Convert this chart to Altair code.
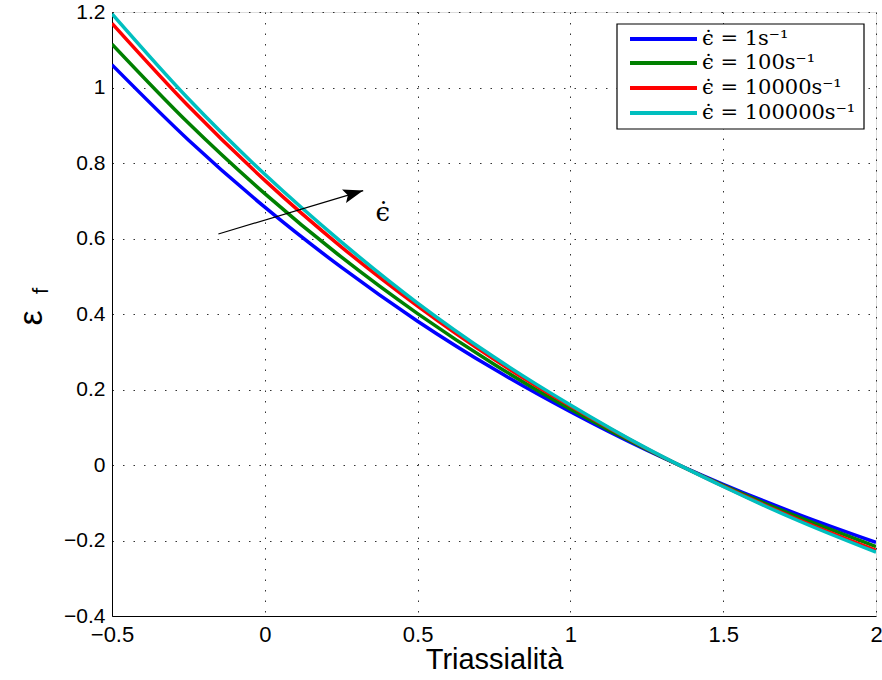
import altair as alt
import pandas as pd

x_vals = [-0.5, -0.25, 0.0, 0.25, 0.5, 0.75, 1.0, 1.25, 1.5, 1.75, 2.0]
series_names = ["1", "100", "10000", "100000"]
blue = [1.060, 0.861, 0.683, 0.524, 0.381, 0.254, 0.141, 0.039, -0.051, -0.132, -0.205]
green = [1.115, 0.906, 0.719, 0.551, 0.401, 0.267, 0.148, 0.041, -0.054, -0.139, -0.216]
red = [1.170, 0.951, 0.754, 0.578, 0.421, 0.280, 0.156, 0.043, -0.056, -0.146, -0.226]
cyan = [1.195, 0.970, 0.770, 0.591, 0.429, 0.286, 0.159, 0.044, -0.057, -0.149, -0.231]
colors = ["#0000ff", "#008000", "#ff0000", "#00bfbf"]
x_ticks = [-0.5, 0, 0.5, 1, 1.5, 2]
y_ticks = [-0.4, -0.2, 0, 0.2, 0.4, 0.6, 0.8, 1, 1.2]

rows = []
for name, ys in zip(series_names, [blue, green, red, cyan]):
    for xv, yv in zip(x_vals, ys):
        rows.append({"x": xv, "y": yv, "s": name})
df = pd.DataFrame(rows)

sans = "Liberation Sans"
serif = "DejaVu Serif"

xscale = alt.Scale(domain=[-0.5, 2], nice=False, zero=False)
yscale = alt.Scale(domain=[-0.4, 1.2], nice=False, zero=False)

lines = alt.Chart(df).mark_line(strokeWidth=3.5, interpolate="monotone", clip=True).encode(
    x=alt.X("x:Q", scale=xscale, axis=alt.Axis(
        values=x_ticks, title="Triassialità", titleFont=sans, titleFontSize=29,
        titleFontWeight="normal", titleColor="black", titlePadding=0,
        labelFont=sans, labelFontSize=22, labelColor="black", labelPadding=8,
        labelExpr="replace(toString(datum.value), '-', '\u2212')",
        ticks=False, domainColor="black", grid=True, gridColor="black",
        gridDash=[1.5, 9], gridOpacity=0.8, labelFlush=False)),
    y=alt.Y("y:Q", scale=yscale, axis=alt.Axis(
        values=y_ticks, title=None,
        labelFont=sans, labelFontSize=21, labelColor="black", labelPadding=7,
        labelExpr="replace(toString(datum.value), '-', '\u2212')",
        ticks=False, domainColor="black", grid=True, gridColor="black",
        gridDash=[1.5, 9], gridOpacity=0.8, labelFlush=False)),
    color=alt.Color("s:N", scale=alt.Scale(domain=series_names, range=colors), legend=None),
    detail="s:N",
)

# arrow annotation
arrow_start = (-0.152, 0.612)
arrow_end = (0.322, 0.727)
arrow_df = pd.DataFrame([{"x": arrow_start[0], "y": arrow_start[1],
                          "x2": arrow_end[0], "y2": arrow_end[1]}])
arrow_line = alt.Chart(arrow_df).mark_rule(color="black", strokeWidth=1.2).encode(
    x=alt.X("x:Q", scale=xscale), y=alt.Y("y:Q", scale=yscale), x2="x2:Q", y2="y2:Q")
head_df = pd.DataFrame([{"x": arrow_end[0], "y": arrow_end[1]}])
arrow_head = alt.Chart(head_df).mark_point(
    shape="M0,0 L-2,-0.7 L-1.6,0 L-2,0.7 Z", size=400, filled=True, color="black",
    opacity=1, angle=343.4).encode(
    x=alt.X("x:Q", scale=xscale), y=alt.Y("y:Q", scale=yscale))
lab_df = pd.DataFrame([{"x": 0.386, "y": 0.668, "t": "\u03f5\u0307"}])
arrow_label = alt.Chart(lab_df).mark_text(font=serif, fontSize=26, color="black").encode(
    x=alt.X("x:Q", scale=xscale), y=alt.Y("y:Q", scale=yscale), text="t:N")

# y-axis title epsilon_f
ytitle_e = alt.Chart(pd.DataFrame([{"t": "\u03b5"}])).mark_text(
    font=sans, fontSize=34, angle=270, baseline="alphabetic", align="center", color="black").encode(
    x=alt.value(-70), y=alt.value(306), text="t:N")
ytitle_f = alt.Chart(pd.DataFrame([{"t": "f"}])).mark_text(
    font=sans, fontSize=22, angle=270, baseline="alphabetic", align="center", color="black").encode(
    x=alt.value(-64), y=alt.value(279), text="t:N")

# legend
legend_labels = ["\u03f5\u0307 = " + n + "s\u207b\u00b9" for n in series_names]
leg_box = alt.Chart(pd.DataFrame([{"a": 1}])).mark_rect(
    fill="white", stroke="black", strokeWidth=1.2).encode(
    x=alt.value(505), x2=alt.value(752), y=alt.value(12), y2=alt.value(117))
layers = [lines, arrow_line, arrow_head, arrow_label, ytitle_e, ytitle_f, leg_box]
row_y = [27, 51, 76, 101]
for lbl, col, ry in zip(legend_labels, colors, row_y):
    layers.append(alt.Chart(pd.DataFrame([{"a": 1}])).mark_rule(
        color=col, strokeWidth=4).encode(x=alt.value(518), x2=alt.value(585), y=alt.value(ry)))
    layers.append(alt.Chart(pd.DataFrame([{"t": lbl}])).mark_text(
        font=serif, fontSize=21, align="left", baseline="middle", color="black").encode(
        x=alt.value(590), y=alt.value(ry), text="t:N"))

chart = alt.layer(*layers).properties(
    width=764, height=604,
    autosize=alt.AutoSizeParams(type="none"),
    padding={"left": 112, "top": 12, "right": 6, "bottom": 64},
).configure_view(stroke="black", strokeWidth=1.2).configure(background="white")

chart.save("out.html", embed_options={"renderer": "svg", "actions": False})
